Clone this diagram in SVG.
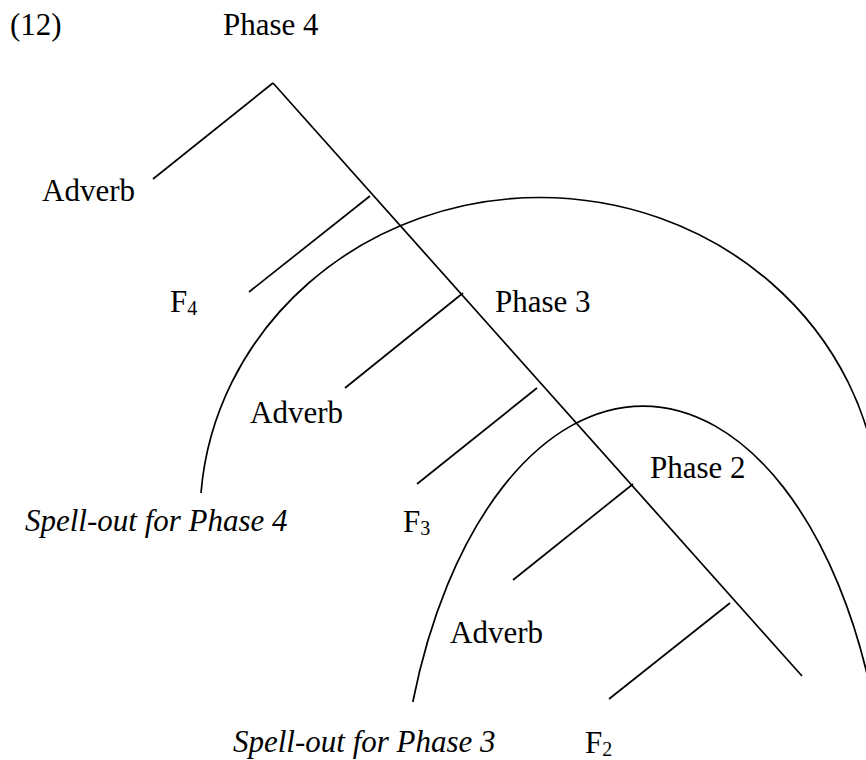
<svg xmlns="http://www.w3.org/2000/svg" width="866" height="760" viewBox="0 0 866 760">
<style>
text{font-family:"Liberation Serif","Times New Roman",serif;font-size:31px;fill:#000}
.it{font-style:italic}
.sub{font-size:20px}
.ln{stroke:#000;stroke-width:1.7;fill:none}
</style>
<rect width="866" height="760" fill="#fff"/>
<g id="connectors" class="ln">
<line x1="273" y1="83" x2="802" y2="676"/>
<line x1="273" y1="83" x2="153" y2="179"/>
<line x1="370" y1="196" x2="249" y2="292"/>
<line x1="463" y1="293" x2="345" y2="388"/>
<line x1="537" y1="388" x2="417" y2="484"/>
<line x1="633" y1="484" x2="513" y2="580"/>
<line x1="730" y1="603" x2="609" y2="699"/>
</g>
<g id="spellout-arcs" class="ln">
<path id="arc-phase4" d="M201,493 A340,320 0 0 1 879,493"/>
<path id="arc-phase3" d="M412.8,702 A245,450 0 0 1 873.2,702"/>
</g>
<g id="label-12"><text x="10" y="35">(12)</text></g>
<g id="node-phase4"><text x="223" y="35">Phase 4</text></g>
<g id="node-adverb4"><text x="42" y="201">Adverb</text></g>
<g id="node-f4"><text x="170" y="312">F<tspan class="sub" dy="3">4</tspan></text></g>
<g id="node-phase3"><text x="495" y="312">Phase 3</text></g>
<g id="node-adverb3"><text x="250" y="423">Adverb</text></g>
<g id="label-spellout4"><text class="it" x="25" y="531">Spell-out for Phase 4</text></g>
<g id="node-f3"><text x="403" y="532">F<tspan class="sub" dy="3">3</tspan></text></g>
<g id="node-phase2"><text x="650" y="478">Phase 2</text></g>
<g id="node-adverb2"><text x="450" y="643">Adverb</text></g>
<g id="label-spellout3"><text class="it" x="233" y="752">Spell-out for Phase 3</text></g>
<g id="node-f2"><text x="585" y="753">F<tspan class="sub" dy="3">2</tspan></text></g>
</svg>
